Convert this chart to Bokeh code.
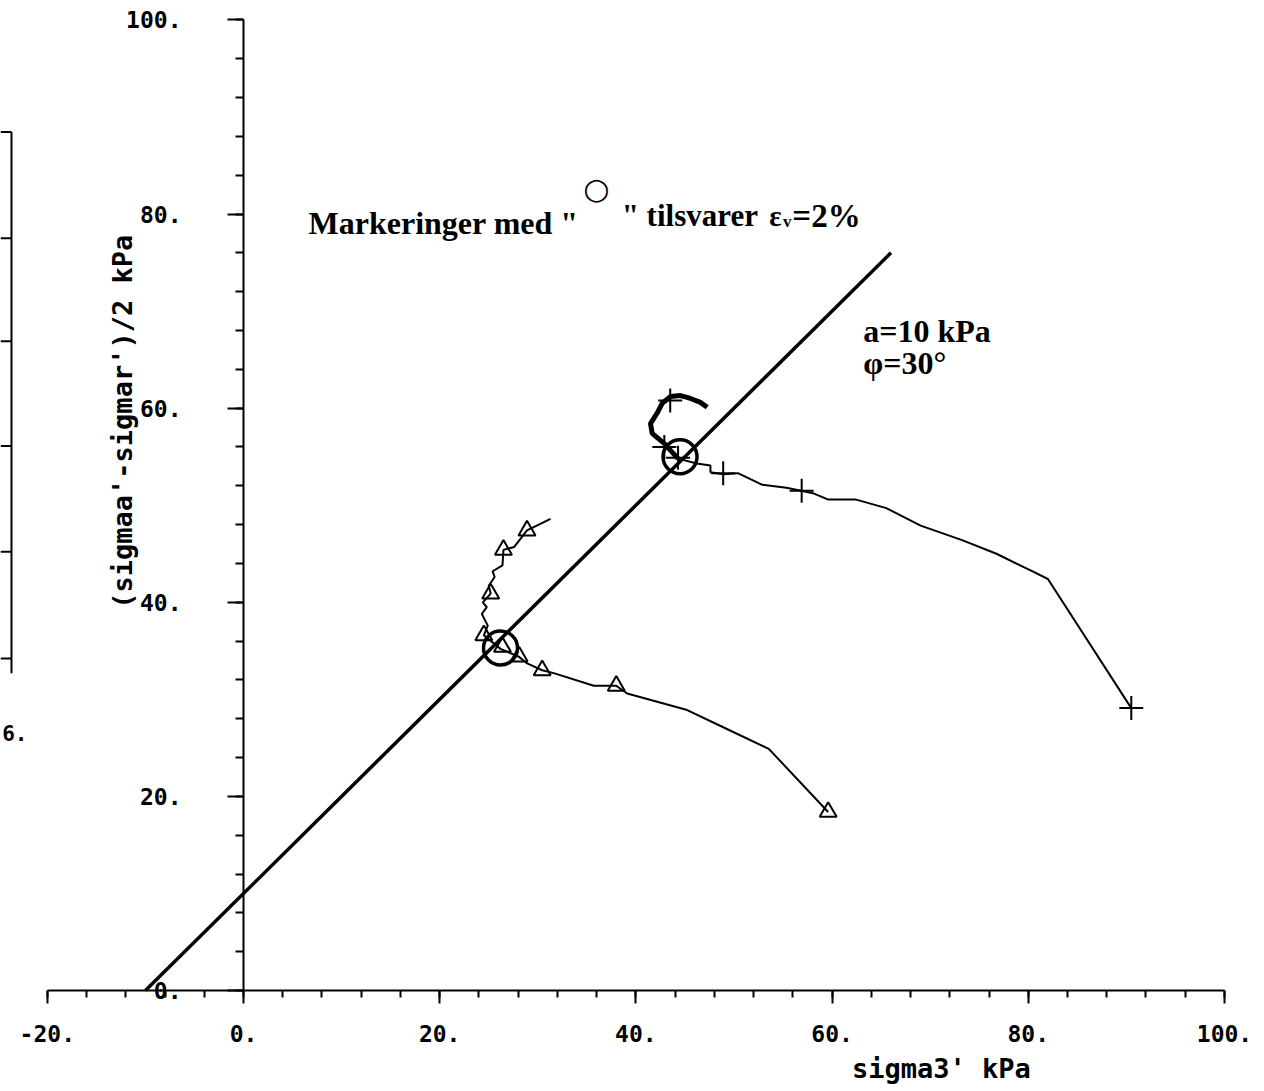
import math
from bokeh.plotting import figure
from bokeh.models import Range1d, LinearAxis, SingleIntervalTicker, PrintfTickFormatter, Label
from bokeh.embed import file_html
from bokeh.resources import INLINE

# ---------------- data ----------------
# Failure envelope parameters
attraction_a = 10.0      # kPa
phi_deg = 30.0           # degrees
env_x_end = 66.0

# Test 1 (triangles): stress path sigma3' vs (sigmaa'-sigmar')/2
tri_path_x = [59.6, 53.55, 48.96, 45.23, 39.11, 37.99, 35.71, 31.63, 30.45, 28.92, 28.06,
              26.2, 24.5, 24.9, 24.3, 24.8, 24.4, 25.2, 25.0, 25.6, 25.4, 26.4, 26.5, 27.6,
              28.9, 29.9, 31.3]
tri_path_y = [18.4, 24.9, 27.1, 28.9, 30.6, 31.4, 31.4, 32.7, 33.0, 33.7, 34.4,
              35.2, 36.6, 37.6, 38.8, 39.5, 40.0, 40.9, 41.7, 42.6, 43.2, 43.8, 45.4, 45.7,
              47.4, 47.9, 48.6]
tri_mark_x = [59.6, 38.0, 30.45, 28.1, 26.4, 24.5, 25.2, 26.5, 28.9]
tri_mark_y = [18.4, 31.4, 33.0, 34.4, 35.4, 36.6, 40.9, 45.4, 47.4]

# Test 2 (crosses)
crs_path_x = [90.5, 82.0, 80.6, 76.76, 73.25, 69.03, 65.53, 62.37, 59.56, 58.16, 56.86,
              55.35, 52.9, 50.4, 48.9, 47.6, 47.6, 46.2, 44.3]
crs_path_y = [29.1, 42.4, 43.1, 45.0, 46.4, 47.9, 49.7, 50.6, 50.6, 51.2, 51.5,
              51.8, 52.1, 53.3, 53.2, 53.4, 54.1, 54.3, 54.8]
crs_blob_x = [44.3, 42.85, 41.66, 41.49, 42.17, 42.68, 43.53, 44.55, 45.57, 46.58, 47.27]
crs_blob_y = [54.8, 56.4, 57.4, 58.4, 59.5, 60.5, 61.2, 61.3, 61.0, 60.6, 60.1]
crs_mark_x = [90.5, 56.9, 48.9, 44.3, 42.9, 43.5]
crs_mark_y = [29.1, 51.5, 53.3, 54.9, 56.0, 60.8]

# Points where eps_v = 2 %
ev2_x = [26.2, 44.5]
ev2_y = [35.3, 55.0]

# Fragment of the neighbouring chart at the left edge
frag_x = -23.65
frag_top, frag_bottom = 88.45, 34.2
frag_ticks_y = [88.45, 77.5, 66.9, 56.1, 45.2, 34.2]

# ---------------- figure ----------------
p = figure(width=1264, height=1091, output_backend="svg", toolbar_location=None,
           x_range=Range1d(-24.77, 104.08), y_range=Range1d(-10.4, 102.0),
           x_axis_location=None, y_axis_location=None, min_border=0)
p.outline_line_color = None
p.background_fill_color = "white"
p.border_fill_color = "white"
for g in p.grid:
    g.visible = False

tick_font = "DejaVu Sans Mono"

xaxis = LinearAxis(fixed_location=0, bounds=(-20, 100),
                   ticker=SingleIntervalTicker(interval=20, num_minor_ticks=5),
                   formatter=PrintfTickFormatter(format="%d."))
yaxis = LinearAxis(fixed_location=0, bounds=(0, 100),
                   ticker=SingleIntervalTicker(interval=20, num_minor_ticks=5),
                   formatter=PrintfTickFormatter(format="%d."))
for ax in (xaxis, yaxis):
    ax.axis_line_width = 2
    ax.axis_line_color = "black"
    ax.major_tick_line_width = 2
    ax.minor_tick_line_width = 2
    ax.major_tick_line_color = "black"
    ax.minor_tick_line_color = "black"
    ax.major_tick_in = 0
    ax.minor_tick_in = 0
    ax.major_label_text_font = tick_font
    ax.major_label_text_font_size = "23px"
    ax.major_label_text_font_style = "bold"
    ax.major_label_text_color = "black"
xaxis.major_tick_out = 13
xaxis.minor_tick_out = 7
xaxis.major_label_standoff = 21
yaxis.major_tick_out = 16
yaxis.minor_tick_out = 8
yaxis.major_label_standoff = 46
p.add_layout(xaxis, "below")
p.add_layout(yaxis, "left")

# axis titles
p.add_layout(Label(x=71.15, y=-8.0, text="sigma3' kPa", text_font=tick_font,
                   text_font_size="27px", text_font_style="bold", text_align="center",
                   text_baseline="middle", text_color="black"))
p.add_layout(Label(x=-12.3, y=58.6, text="(sigmaa'-sigmar')/2 kPa", angle=math.pi / 2,
                   text_font=tick_font, text_font_size="27px", text_font_style="bold",
                   text_align="center", text_baseline="middle", text_color="black"))

# failure envelope  t = (sigma3' + a) * (N - 1) / 2 , N = (1+sin phi)/(1-sin phi)
s = math.sin(math.radians(phi_deg))
N = (1 + s) / (1 - s)
slope = (N - 1) / 2
env_x = [-attraction_a, env_x_end]
env_y = [(xx + attraction_a) * slope for xx in env_x]
p.line(env_x, env_y, line_color="black", line_width=3.5)

# stress paths
p.line(tri_path_x, tri_path_y, line_color="black", line_width=2)
p.scatter(tri_mark_x, tri_mark_y, marker="triangle", size=17, fill_color=None,
          line_color="black", line_width=2)

p.line(crs_path_x, crs_path_y, line_color="black", line_width=2)
p.line(crs_blob_x, crs_blob_y, line_color="black", line_width=5)
p.scatter(crs_mark_x, crs_mark_y, marker="cross", size=24, line_color="black", line_width=2)

p.scatter(ev2_x, ev2_y, marker="circle", size=34, fill_color=None, line_color="black",
          line_width=3.5)

# left fragment of neighbouring chart
p.segment(x0=[frag_x], y0=[frag_bottom], x1=[frag_x], y1=[frag_top], line_color="black", line_width=2)
p.segment(x0=[-24.77] * len(frag_ticks_y), y0=frag_ticks_y, x1=[frag_x] * len(frag_ticks_y),
          y1=frag_ticks_y, line_color="black", line_width=2)
p.segment(x0=[frag_x], y0=[frag_bottom], x1=[frag_x], y1=[frag_bottom - 1.5], line_color="black", line_width=2)
p.add_layout(Label(x=-24.6, y=26.5, text="6.", text_font=tick_font, text_font_size="21px",
                   text_font_style="bold", text_align="left", text_baseline="middle",
                   text_color="black"))

# annotations
serif = "Liberation Serif"
def lab(x, y, t, size, font=serif, style="bold", align="left", baseline="alphabetic"):
    p.add_layout(Label(x=x, y=y, text=t, text_font=font, text_font_size=size,
                       text_font_style=style, text_align=align, text_baseline=baseline,
                       text_color="black"))

lab(6.63, 79.12, 'Markeringer med "', "32px")
lab(35.98, 82.62, "○", "30px", font="DejaVu Sans", style="normal", align="center", baseline="middle")
lab(38.55, 79.84, '" tilsvarer', "31px")
lab(53.6, 79.84, "ε", "29px")
lab(55.0, 79.2, "v", "17px")
lab(55.95, 79.84, "=2%", "33px")

lab(63.17, 67.99, "a=10 kPa", "32px")
lab(63.17, 64.62, "φ=30°", "32px")

open("out.html", "w").write(file_html(p, INLINE))
